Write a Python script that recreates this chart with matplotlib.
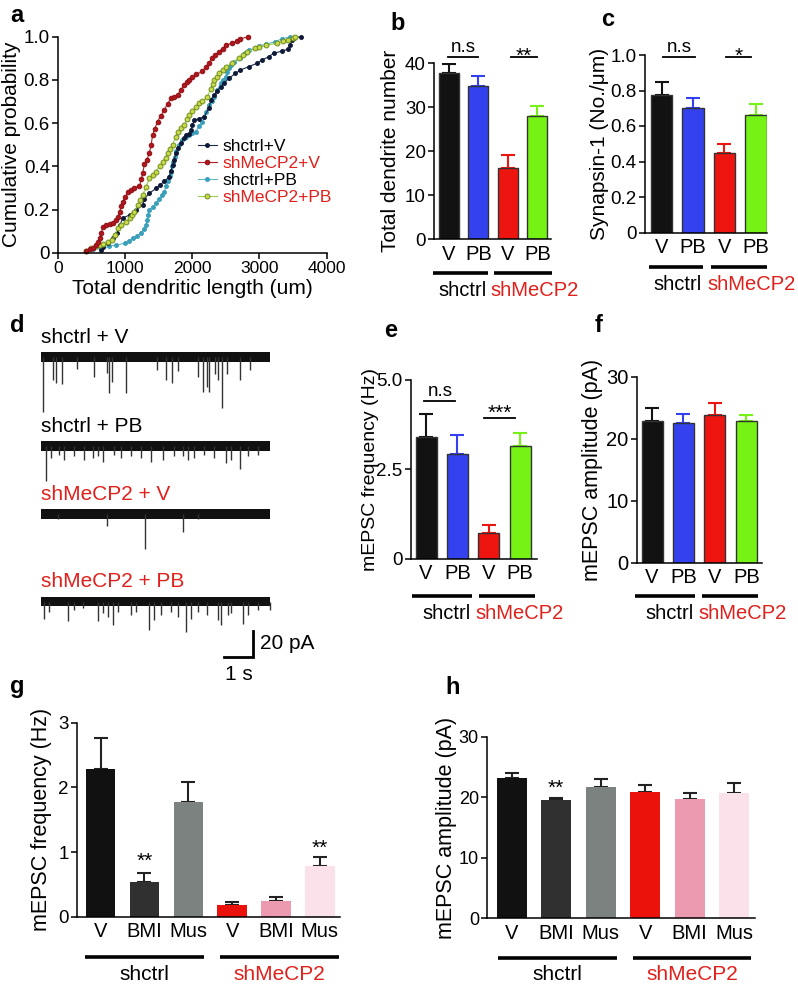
import matplotlib
matplotlib.use("Agg")
import matplotlib.pyplot as plt
from matplotlib import transforms

plt.rcParams['font.family'] = ['Liberation Sans', 'DejaVu Sans']
plt.rcParams['font.size'] = 14
plt.rcParams['axes.linewidth'] = 1.1

W, H = 798, 989
RED_TXT = "#e0201b"

# ---------------- panel a : cumulative distributions (length um, probability)
ctrlV_len = [642, 667, 741, 815, 870, 920, 963, 1062, 1161, 1259, 1284, 1358, 1457, 1520, 1580, 1654, 1680,
             1704, 1730, 1753, 1790, 1828, 1870, 1901, 1951, 1976, 2000, 2025, 2100, 2173, 2247, 2272, 2321,
             2370, 2420, 2469, 2543, 2642, 2717, 2840, 2963, 3037, 3136, 3210, 3330, 3432, 3457, 3481, 3521, 3620]
ctrlV_p = [0.012, 0.025, 0.043, 0.067, 0.09, 0.13, 0.16, 0.175, 0.198, 0.22, 0.25, 0.275, 0.298, 0.315, 0.33,
           0.352, 0.38, 0.406, 0.43, 0.46, 0.485, 0.506, 0.53, 0.545, 0.55, 0.568, 0.59, 0.614, 0.62, 0.63,
           0.668, 0.707, 0.73, 0.75, 0.768, 0.784, 0.807, 0.83, 0.846, 0.861, 0.877, 0.892, 0.907, 0.923,
           0.933, 0.943, 0.962, 0.985, 0.995, 1.0]

mecpV_len = [420, 470, 519, 560, 593, 620, 640, 667, 716, 770, 815, 860, 889, 915, 940, 963, 1000, 1037, 1090,
             1136, 1210, 1240, 1260, 1284, 1320, 1358, 1385, 1407, 1440, 1481, 1530, 1580, 1630, 1680, 1730,
             1778, 1830, 1877, 1920, 1951, 2000, 2060, 2148, 2200, 2247, 2296, 2340, 2396, 2450, 2495, 2593,
             2660, 2717, 2830]
mecpV_p = [0.01, 0.015, 0.023, 0.035, 0.05, 0.07, 0.09, 0.12, 0.13, 0.133, 0.136, 0.15, 0.167, 0.19, 0.215,
           0.236, 0.26, 0.28, 0.29, 0.30, 0.31, 0.34, 0.37, 0.41, 0.43, 0.46, 0.50, 0.545, 0.575, 0.607, 0.635,
           0.66, 0.69, 0.715, 0.722, 0.73, 0.755, 0.776, 0.79, 0.80, 0.815, 0.825, 0.84, 0.86, 0.877, 0.90,
           0.915, 0.93, 0.945, 0.96, 0.97, 0.98, 0.99, 1.0]

ctrlPB_len = [420, 520, 640, 760, 865, 988, 1050, 1111, 1170, 1235, 1280, 1309, 1325, 1333, 1358, 1407, 1457,
              1506, 1545, 1580, 1610, 1630, 1660, 1680, 1700, 1714, 1735, 1753, 1803, 1852, 1901, 1951, 2000,
              2050, 2100, 2148, 2175, 2198, 2247, 2290, 2321, 2370, 2420, 2460, 2495, 2520, 2543, 2580, 2617,
              2717, 2790, 2840, 2939, 2988, 3100, 3235, 3333, 3457]
ctrlPB_p = [0.01, 0.015, 0.02, 0.03, 0.036, 0.043, 0.055, 0.067, 0.078, 0.09, 0.11, 0.128, 0.15, 0.175, 0.198,
            0.213, 0.229, 0.25, 0.265, 0.28, 0.31, 0.33, 0.355, 0.375, 0.40, 0.42, 0.445, 0.47, 0.50, 0.52,
            0.537, 0.545, 0.552, 0.56, 0.585, 0.607, 0.63, 0.65, 0.684, 0.70, 0.72, 0.753, 0.784, 0.80, 0.815,
            0.835, 0.854, 0.87, 0.884, 0.90, 0.923, 0.938, 0.946, 0.958, 0.965, 0.977, 0.99, 1.0]

mecpPB_len = [420, 490, 568, 620, 667, 740, 800, 840, 889, 939, 1013, 1062, 1100, 1136, 1185, 1225, 1259, 1309,
              1358, 1410, 1457, 1510, 1556, 1600, 1630, 1670, 1704, 1753, 1790, 1828, 1877, 1920, 1951, 2000,
              2050, 2100, 2150, 2222, 2272, 2300, 2321, 2360, 2396, 2450, 2495, 2593, 2692, 2760, 2815, 2939,
              3000, 3100, 3259, 3350, 3433, 3507, 3531]
mecpPB_p = [0.01, 0.02, 0.03, 0.035, 0.04, 0.05, 0.06, 0.08, 0.113, 0.128, 0.14, 0.16, 0.175, 0.19, 0.22,
            0.245, 0.267, 0.305, 0.344, 0.36, 0.375, 0.40, 0.42, 0.44, 0.46, 0.48, 0.50, 0.537, 0.56, 0.576,
            0.59, 0.62, 0.637, 0.655, 0.675, 0.695, 0.70, 0.72, 0.76, 0.78, 0.80, 0.815, 0.83, 0.845, 0.86,
            0.88, 0.90, 0.915, 0.93, 0.946, 0.95, 0.96, 0.97, 0.98, 0.985, 0.995, 1.0]

# ---------------- panels b, c, e, f
conds4 = ["V", "PB", "V", "PB"]
dend_mean = [37.7, 34.9, 16.2, 27.9]
dend_err = [2.1, 2.1, 2.9, 2.4]
syn_mean = [0.775, 0.70, 0.45, 0.66]
syn_err = [0.075, 0.06, 0.05, 0.065]
freq_mean = [3.40, 2.92, 0.72, 3.15]
freq_err = [0.64, 0.54, 0.23, 0.36]
amp_mean = [22.85, 22.6, 23.8, 22.85]
amp_err = [2.05, 1.4, 2.0, 0.95]

# ---------------- panels g, h
conds6 = ["V", "BMI", "Mus", "V", "BMI", "Mus"]
drug_freq_mean = [2.29, 0.54, 1.77, 0.18, 0.25, 0.78]
drug_freq_err = [0.47, 0.14, 0.31, 0.04, 0.06, 0.14]
drug_amp_mean = [23.2, 19.55, 21.65, 20.9, 19.7, 20.75]
drug_amp_err = [0.8, 0.4, 1.35, 1.2, 1.05, 1.55]

# ---------------- panel d : mEPSC event times (s) and amplitudes (pA)
trace_names = ["shctrl + V", "shctrl + PB", "shMeCP2 + V", "shMeCP2 + PB"]
ev1_t = [0.08, 0.40, 0.51, 0.71, 1.23, 1.84, 2.27, 2.34, 2.44, 2.92, 3.99, 4.31, 4.53, 4.73, 5.42, 5.60,
         5.71, 5.80, 6.00, 6.11, 6.25, 6.40, 6.86, 7.21]
ev1_a = [42, 18, 20, 21, 9, 15, 12, 28, 19, 28, 10, 18, 20, 11, 15, 27, 23, 27, 13, 18, 39, 13, 18, 10]
ev2_t = [0.17, 0.34, 0.63, 0.80, 1.15, 1.49, 1.78, 1.96, 2.13, 2.53, 2.76, 3.10, 3.45, 3.79, 4.20, 4.60,
         4.89, 5.06, 5.29, 5.63, 5.96, 6.38, 6.55, 6.87, 7.13, 7.47]
ev2_a = [27, 9, 7, 11, 8, 11, 9, 8, 12, 7, 9, 8, 9, 12, 11, 8, 8, 11, 9, 7, 9, 13, 11, 18, 8, 7]
ev3_t = [0.60, 2.26, 3.59, 4.91, 5.40]
ev3_a = [4, 9, 27, 14, 4]
ev4_t = [0.12, 0.29, 0.92, 1.15, 1.44, 1.96, 2.13, 2.30, 2.47, 2.64, 3.10, 3.28, 3.74, 3.91, 4.14, 4.48,
         4.71, 5.00, 5.17, 5.40, 5.74, 6.09, 6.21, 6.44, 6.55, 6.96, 7.13, 7.48, 7.88]
ev4_a = [13, 8, 15, 6, 5, 15, 9, 12, 18, 8, 10, 8, 22, 14, 10, 8, 12, 23, 13, 8, 10, 14, 18, 10, 9, 17,
         10, 6, 6]
trace_events = [(ev1_t, ev1_a), (ev2_t, ev2_a), (ev3_t, ev3_a), (ev4_t, ev4_a)]
trace_dur = 7.9

fig = plt.figure(figsize=(W / 100, H / 100), dpi=100)


def px_axes(left, top, right, bottom):
    return fig.add_axes([left / W, 1 - bottom / H, (right - left) / W, (bottom - top) / H])


def ax_frac(ax, y_px):
    pos = ax.get_position()
    return ((1 - y_px / H) - pos.y0) / pos.height


def ax_xfrac(ax, x_px):
    pos = ax.get_position()
    return (x_px / W - pos.x0) / pos.width


def style(ax, tick_size):
    for s in ["top", "right"]:
        ax.spines[s].set_visible(False)
    ax.tick_params(axis="y", direction="out", length=4, width=1.1, pad=2, labelsize=tick_size)


def ylabel_at(ax, text, size, center_px):
    # right edge of the rotated label sits at the given x
    ax.set_ylabel(text, fontsize=size)
    ax.yaxis.set_label_coords(ax_xfrac(ax, center_px + size * 0.62), 0.5)


def panel_label(x, y, s):
    fig.text(x / W, 1 - y / H, s, fontsize=17, fontweight="bold", ha="left", va="center")


def bar_panel(ax, means, errs, colors, ecolors, edge, xlim, ylim, yticks, yticklabels,
              ylabel, labels, groups, group_y, label_y, width, tick_size, xtick_size, ylab_size,
              ylab_x, centered_groups):
    x = list(range(len(means)))
    ax.bar(x, means, width=width, color=colors, edgecolor=edge, linewidth=1.0 if edge != "none" else 0, zorder=2)
    for xi, m, e, c in zip(x, means, errs, ecolors):
        ax.errorbar(xi, m, yerr=[[0], [e]], fmt="none", ecolor=c, elinewidth=1.5, capsize=5,
                    capthick=1.5, zorder=1)
    ax.set_xlim(*xlim)
    ax.set_ylim(*ylim)
    ax.set_yticks(yticks)
    ax.set_yticklabels(yticklabels)
    ax.set_xticks(x)
    ax.set_xticklabels(labels, fontsize=xtick_size)
    ax.tick_params(axis="x", length=0, pad=4)
    style(ax, tick_size)
    ylabel_at(ax, ylabel, ylab_size, ylab_x)
    tr = transforms.blended_transform_factory(ax.transData, ax.transAxes)
    gy = ax_frac(ax, group_y)
    ly = ax_frac(ax, label_y)
    for (x0, x1), name, col, ha in zip(groups, ["shctrl", "shMeCP2"], ["black", RED_TXT], ["right", "left"]):
        ax.plot([x0, x1], [gy, gy], color="black", lw=2.6, transform=tr, clip_on=False,
                solid_capstyle="butt")
        if centered_groups:
            ax.text((x0 + x1) / 2, ly, name, color=col, transform=tr, ha="center", va="center", fontsize=15)
        else:
            anchor = x1 if ha == "right" else x0
            shift = -1 if ha == "right" else -2.5
            ax.annotate(name, (anchor, ly), xycoords=tr, xytext=(shift, 0), textcoords="offset points",
                        color=col, ha=ha, va="center", fontsize=14.5)


def sig(ax, x0, x1, y, text, size=14, dy=0.0):
    ax.plot([x0, x1], [y, y], color="black", lw=1.3, clip_on=False)
    ax.text((x0 + x1) / 2, y + dy, text, ha="center", va="bottom", fontsize=size)


# ---------------- a
ax = px_axes(58.3, 36.7, 326.5, 252.7)
series = [
    (ctrlPB_len, ctrlPB_p, "#5fb7cc", "#3a9fbb", "#3a9fbb", "shctrl+PB", 2.8),
    (ctrlV_len, ctrlV_p, "#1c2a4a", "#0e1a38", "#0e1a38", "shctrl+V", 2.8),
    (mecpPB_len, mecpPB_p, "#9bd04a", "#c9d84a", "#6f8f1f", "shMeCP2+PB", 3.5),
    (mecpV_len, mecpV_p, "#b32025", "#b0161e", "#8e1015", "shMeCP2+V", 3.3),
]
handles = {}
for xs, ps, lc, fc, ec, name, ms in series:
    h, = ax.plot(xs, ps, "-o", color=lc, lw=0.8, ms=ms, mfc=fc, mec=ec, mew=0.7, label=name, clip_on=False)
    handles[name] = h
ax.set_xlim(0, 4000)
ax.set_ylim(0, 1.0)
ax.set_xticks([0, 1000, 2000, 3000, 4000])
ax.set_yticks([0, 0.2, 0.4, 0.6, 0.8, 1.0])
ax.set_yticklabels(["0", "0.2", "0.4", "0.6", "0.8", "1.0"])
style(ax, 13.5)
ax.tick_params(axis="x", direction="out", length=4, width=1.1, pad=2, labelsize=12.5)
ax.set_xlabel("Total dendritic length (um)", labelpad=2, fontsize=15)
ylabel_at(ax, "Cumulative probability", 15, 12)
order = ["shctrl+V", "shMeCP2+V", "shctrl+PB", "shMeCP2+PB"]
leg = ax.legend([handles[n] for n in order], order, loc="upper left", bbox_to_anchor=(0.52, 0.525),
                frameon=False, fontsize=12.5, handlelength=1.1, handletextpad=0.3, labelspacing=0.1,
                borderpad=0, borderaxespad=0)
for t, c in zip(leg.get_texts(), ["black", RED_TXT, "black", RED_TXT]):
    t.set_color(c)

# ---------------- b
c4 = ["#121212", "#3341ee", "#ee1410", "#76f214"]
ax = px_axes(434.3, 63.3, 551, 239)
bar_panel(ax, dend_mean, dend_err, c4, c4, "#333333", (-0.49, 3.46), (0, 40), [0, 10, 20, 30, 40],
          ["0", "10", "20", "30", "40"], "Total dendrite number", conds4,
          [(-0.53, 1.32), (1.53, 3.48)], 272.7, 291, 0.68, 13.5, 14.5, 15, 391, False)
sig(ax, -0.02, 1.0, 41.4, "n.s", 13.5, 0.3)
sig(ax, 2.1, 2.98, 41.4, "**", 15, -1.9)

# ---------------- c
ax = px_axes(645, 55, 767, 232.5)
bar_panel(ax, syn_mean, syn_err, c4, c4, "#333333", (-0.53, 3.36), (0, 1.0), [0, 0.2, 0.4, 0.6, 0.8, 1.0],
          ["0", "0.2", "0.4", "0.6", "0.8", "1.0"], "Synapsin-1 (No./\u03bcm)", conds4,
          [(-0.41, 1.32), (1.58, 3.36)], 267.3, 285, 0.69, 13.5, 14.5, 15, 600, False)
sig(ax, 0.05, 1.07, 0.987, "n.s", 13.5, 0.008)
sig(ax, 2.05, 2.86, 0.987, "*", 15, -0.05)

# ---------------- d : traces
axd = px_axes(40, 330, 320, 690)
axd.set_xlim(0, 280 / 29)
axd.set_ylim(-360 / 1.3, 0)
axd.axis("off")
base_px = [357, 446, 514, 601.7]
for (ts, amps), name, bpx, col in zip(trace_events, trace_names, base_px,
                                      ["black", "black", RED_TXT, RED_TXT]):
    y0 = -(bpx - 330) / 1.3
    x0 = 1 / 29
    axd.fill_between([x0, x0 + trace_dur], y0 - 3.6, y0 + 3.6, color="#111111", lw=0)
    axd.vlines([x0 + t for t in ts], y0, [y0 - a for a in amps], color="#333333", lw=1.0)
    axd.text(x0, y0 + 20 / 1.3, name, color=col, fontsize=15, ha="left", va="center")
sb_t, sb_y = (224 - 40) / 29, -(656.7 - 330) / 1.3
axd.plot([sb_t, sb_t + 1, sb_t + 1], [sb_y, sb_y, sb_y + 20], color="black", lw=2.0,
         solid_joinstyle="miter")
axd.text(sb_t + 1.25, sb_y + 10, "20 pA", fontsize=15, ha="left", va="center")
axd.text(sb_t + 0.5, sb_y - 14, "1 s", fontsize=15, ha="center", va="center")

# ---------------- e
ax = px_axes(411, 380, 536.7, 558.6)
bar_panel(ax, freq_mean, freq_err, c4, c4, "#333333", (-0.48, 3.53), (0, 5.0), [0, 2.5, 5.0],
          ["0", "2.5", "5.0"], "mEPSC frequency (Hz)", conds4,
          [(-0.46, 1.47), (1.69, 3.48)], 596, 613.3, 0.67, 13.5, 14.5, 14, 370, False)
sig(ax, -0.05, 0.93, 4.41, "n.s", 13.5, 0.03)
sig(ax, 1.86, 2.84, 3.94, "***", 15, -0.14)

# ---------------- f
ax = px_axes(636.7, 376.7, 761.7, 562.7)
bar_panel(ax, amp_mean, amp_err, c4, c4, "#333333", (-0.49, 3.49), (0, 30), [0, 10, 20, 30],
          ["0", "10", "20", "30"], "mEPSC amplitude (pA)", conds4,
          [(-0.54, 1.38), (1.59, 3.38)], 596, 613.3, 0.67, 14.5, 14.5, 15.5, 593, False)

# ---------------- g
c6 = ["#111111", "#303030", "#7b8280", "#ec120c", "#ec9ab0", "#fbe1ea"]
e6 = ["#222222"] * 6
ax = px_axes(77.3, 722.7, 340, 916.7)
bar_panel(ax, drug_freq_mean, drug_freq_err, c6, e6, "none", (-0.53, 5.46), (0, 3), [0, 1, 2, 3],
          ["0", "1", "2", "3"], "mEPSC frequency (Hz)", conds6,
          [(-0.36, 2.36), (2.73, 5.44)], 957.3, 975, 0.67, 13.5, 14.5, 15.5, 42, True)
ax.text(1, 0.85, "**", ha="center", va="center", fontsize=15)
ax.text(5, 1.06, "**", ha="center", va="center", fontsize=15)

# ---------------- h
ax = px_axes(487.3, 736.7, 755, 918.3)
bar_panel(ax, drug_amp_mean, drug_amp_err, c6, e6, "none", (-0.55, 5.47), (0, 30), [0, 10, 20, 30],
          ["0", "10", "20", "30"], "mEPSC amplitude (pA)", conds6,
          [(-0.31, 2.36), (2.72, 5.39)], 957.7, 975, 0.67, 13, 14.5, 15.5, 447, True)
ax.text(1, 21.5, "**", ha="center", va="center", fontsize=15)

for x, y, s in [(10, 15, "a"), (390, 23, "b"), (601, 20, "c"), (10, 325, "d"), (384, 330, "e"),
                (595, 325, "f"), (10, 687, "g"), (445, 687, "h")]:
    panel_label(x, y, s)

fig.savefig("out.png", dpi=100)
